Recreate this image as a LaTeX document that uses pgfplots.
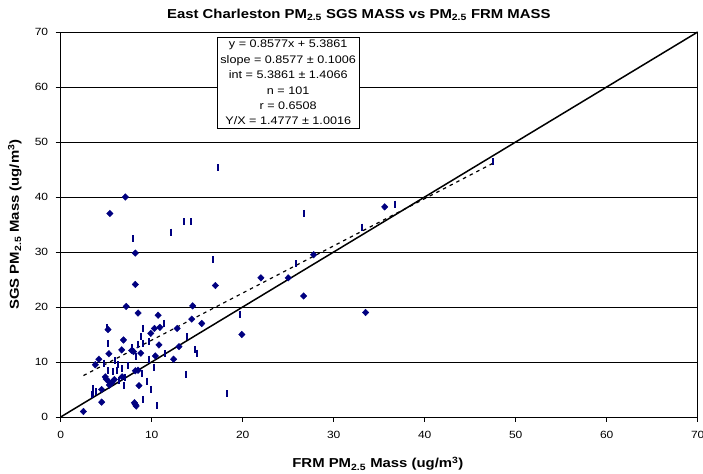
\documentclass[border=0pt]{standalone}
\usepackage{pgfplots}
\pgfplotsset{compat=1.18}
\usepackage{fontspec}
\setmainfont{Liberation Sans}[FakeStretch=1.15]
\usetikzlibrary{calc}
\definecolor{navy}{HTML}{000080}

\begin{document}
\begin{tikzpicture}
\begin{axis}[
    name=ax, scale only axis, width=637bp, height=385bp,
    xmin=0, xmax=70, ymin=0, ymax=70,
    xtick={0,10,...,70}, ytick={0,10,...,70},
    xtick pos=lower, ytick pos=left,
    tick align=outside, major tick length=5bp,
    ymajorgrids, grid style={black, line width=0.8bp},
    axis line style={line width=0.8bp},
    tick style={black, line width=0.8bp},
    ticklabel style={font=\fontsize{10.5}{12}\selectfont},
    xticklabel style={yshift=-6bp},
    yticklabel style={xshift=-4bp},
    /pgf/number format/assume math mode=true,
    title={East Charleston PM\textsubscript{2.5} SGS MASS vs PM\textsubscript{2.5} FRM MASS},
    title style={font=\bfseries\fontsize{13}{15}\selectfont, at={(axis description cs:0.468,1.02)}, anchor=base},
    xlabel={FRM PM\textsubscript{2.5} Mass (ug/m\textsuperscript{3})},
    ylabel={SGS PM\textsubscript{2.5} Mass (ug/m\textsuperscript{3})},
    label style={font=\bfseries\fontsize{13}{15}\selectfont},
    xlabel style={at={(axis description cs:0.498,-0.122)}, anchor=center},
    ylabel style={at={(axis description cs:-0.072,0.5)}, anchor=center},
]
% 1:1 line
\addplot[black, line width=1.5bp] coordinates {(0,0) (70,70)};
% regression line
\addplot[black, line width=1.2bp, dash pattern=on 3.5bp off 4bp] coordinates {(2.5,7.53) (47.5,46.13)};
% diamond markers
\addplot[only marks, mark=diamond*, mark size=3.3bp, mark options={xscale=1.3, navy, fill=navy}] coordinates {
(2.5,1.0) (4.5,2.7) (8.1,2.6) (8.3,2.0) (8.2,2.3) (4.5,5.0) (8.6,5.7)
(4.9,7.3) (5.3,6.4) (5.6,6.2) (5.35,5.8) (5.9,6.8) (5.0,6.9) (6.75,7.3)
(8.2,8.4) (8.5,8.5) (3.8,9.5) (4.2,10.5) (5.3,11.5) (6.7,12.2) (7.8,12.1)
(8.0,11.9) (8.8,11.6) (6.9,14.0) (10.4,11.1) (10.8,13.1) (12.4,10.5)
(9.9,15.2) (10.3,16.1) (10.9,16.3) (5.2,15.9) (7.2,20.1) (8.5,18.9)
(10.7,18.5) (8.2,24.1) (8.2,29.8) (5.4,37.0) (7.1,40.0) (12.8,16.1)
(13.0,12.8) (14.4,17.8) (15.5,17.0) (14.5,20.2) (17.0,23.9) (19.9,15.0)
(22.0,25.3) (25.0,25.3) (26.7,22.0) (27.8,29.5) (33.5,19.0) (35.6,38.2)
};
% bar markers
\addplot[only marks, mark=|, mark size=3.5bp, mark options={navy, line width=2bp}] coordinates {
(3.6,5.2) (3.6,4.3) (3.9,4.6) (5.2,8.4) (5.8,8.2) (6.2,8.5) (6.75,8.8)
(7.4,9.4) (8.95,7.9) (6.4,6.7) (7.1,7.2) (9.5,6.5) (9.9,5.0) (9.0,3.2)
(10.6,2.0) (5.2,13.4) (8.5,13.2) (9.0,13.4) (9.0,16.1) (9.7,10.5)
(9.7,13.7) (11.3,17.0) (5.1,16.3) (8.0,32.4) (12.1,33.6) (13.6,35.5)
(14.3,35.5) (16.7,28.6) (17.3,45.3) (13.9,14.6) (14.8,12.3) (15.0,11.6)
(19.7,18.7) (13.8,7.8) (18.3,4.2) (25.9,27.9) (26.7,37.0) (33.1,34.5)
(36.7,38.7) (47.5,46.4) (7.8,12.6) (8.3,11.0) (4.8,9.8) (6.0,10.2)
(11.5,11.5) (10.2,9.0) (7.0,5.8) (3.4,4.0) (6.3,9.5) (8.8,14.6)
};
\node[draw=black, line width=0.8bp, fill=white, align=center, inner sep=3bp,
      font=\fontsize{11}{15.5}\selectfont] at (axis cs:25.0,60.8)
  {y = 0.8577x + 5.3861\\ slope = 0.8577 ± 0.1006\\ int = 5.3861 ± 1.4066\\ n = 101\\ r = 0.6508\\ Y/X = 1.4777 ± 1.0016};
\end{axis}
\pgfresetboundingbox
\path[use as bounding box] ($(ax.south west)+(-60.7bp,-57bp)$) rectangle ($(ax.north east)+(5.3bp,32bp)$);
\end{tikzpicture}
\end{document}
